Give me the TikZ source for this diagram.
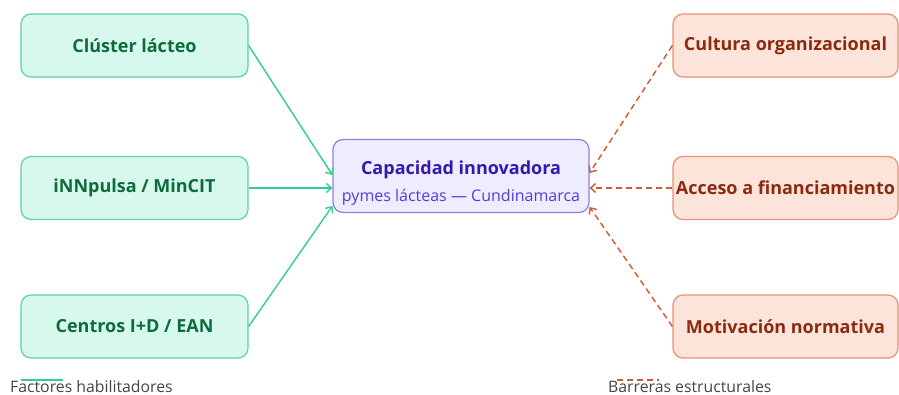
\documentclass[tikz,border=0pt]{standalone}
\usepackage{fontspec}
\setmainfont{Open Sans}
\usetikzlibrary{arrows.meta,calc}
\definecolor{gfill}{HTML}{D7F8EC}
\definecolor{gdraw}{HTML}{5CD3A8}
\definecolor{gtext}{HTML}{0E6B3C}
\definecolor{garrow}{HTML}{2FCF92}
\definecolor{cfill}{HTML}{EEEDFF}
\definecolor{cdraw}{HTML}{8C80E6}
\definecolor{ctitle}{HTML}{3518B0}
\definecolor{csub}{HTML}{5A3BD6}
\definecolor{ofill}{HTML}{FDE4DA}
\definecolor{odraw}{HTML}{EA9172}
\definecolor{otext}{HTML}{8C2A10}
\definecolor{oarrow}{HTML}{D2572C}
\definecolor{legtext}{HTML}{444444}
\tikzset{
  x=1pt,y=-1pt,
  greenbox/.style={draw=gdraw,fill=gfill,line width=1.2pt,rounded corners=10pt,
    minimum width=227pt,minimum height=63pt,inner sep=0pt,
    font=\fontsize{18}{21}\selectfont\bfseries,text=gtext},
  orangebox/.style={draw=odraw,fill=ofill,line width=1.2pt,rounded corners=10pt,
    minimum width=225pt,minimum height=63pt,inner sep=0pt,
    font=\fontsize{18}{21}\selectfont\bfseries,text=otext},
  centerbox/.style={draw=cdraw,fill=cfill,line width=1.2pt,rounded corners=10pt,
    minimum width=256pt,minimum height=73pt,inner sep=0pt,align=center},
  garr/.style={draw=garrow,line width=1.4pt,-{Straight Barb[length=5pt,width=9pt]}},
  oarr/.style={draw=oarrow,line width=1.4pt,dash pattern=on 6pt off 4pt,-{Straight Barb[length=5pt,width=9pt]}},
  legend/.style={font=\fontsize{15.8}{18}\selectfont,text=legtext,anchor=base west,inner sep=0pt},
}
\begin{document}
\begin{tikzpicture}
\useasboundingbox (0,0) rectangle (899,395);
\node[greenbox] (g1) at (134.5,45.5) {Clúster lácteo};
\node[greenbox] (g2) at (134.5,188) {iNNpulsa / MinCIT};
\node[greenbox] (g3) at (134.5,326.5) {Centros I+D / EAN};
\node[orangebox] (o1) at (785.5,45.5) {Cultura organizacional};
\node[orangebox] (o2) at (785.5,188) {Acceso a financiamiento};
\node[orangebox] (o3) at (785.5,326.5) {Motivación normativa};
\node[centerbox] (c) at (461,176) {};
\node[font=\fontsize{18}{22}\selectfont\bfseries,text=ctitle,anchor=base,inner sep=0pt] (ct) at (461,175) {Capacidad innovadora};
\node[font=\fontsize{16}{19}\selectfont,text=csub,anchor=base,inner sep=0pt] (cs) at (461,202) {pymes lácteas — Cundinamarca};
\coordinate (cw1) at ($(c.west)+(0,-1)$);
\coordinate (cw2) at ($(c.west)+(0,12)$);
\coordinate (cw3) at ($(c.west)+(0,30)$);
\coordinate (ce1) at ($(c.east)+(0,-3)$);
\coordinate (ce2) at ($(c.east)+(0,12)$);
\coordinate (ce3) at ($(c.east)+(0,31)$);
\draw[garr] (g1.east) -- (cw1);
\draw[garr] (g2.east) -- (cw2);
\draw[garr] (g3.east) -- (cw3);
\draw[oarr] (o1.west) -- (ce1);
\draw[oarr] (o2.west) -- (ce2);
\draw[oarr] (o3.west) -- (ce3);
\node[legend] (l1) at (10,392) {Factores habilitadores};
\node[legend] (l2) at (608,392) {Barreras estructurales};
\coordinate (lg1) at (21,380);
\coordinate (lg2) at (63,380);
\coordinate (lo1) at (617,380);
\coordinate (lo2) at (659,380);
\draw[draw=garrow,line width=2pt] (lg1) -- (lg2);
\draw[draw=oarrow,line width=2pt,dash pattern=on 6pt off 4pt] (lo1) -- (lo2);
\end{tikzpicture}
\end{document}
